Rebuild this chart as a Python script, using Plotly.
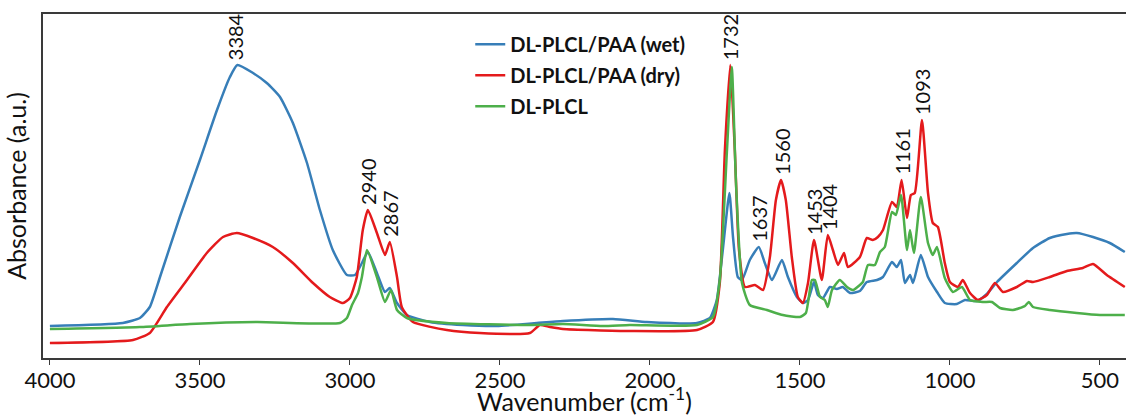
import plotly.graph_objects as go

# ---- data (wavenumber, absorbance a.u.) ----
wet_wn = [4000, 3757, 3700, 3667, 3633, 3567, 3500, 3443, 3400, 3375, 3323, 3277, 3233, 3190,
          3143, 3100, 3057, 3010, 2983, 2960, 2940, 2910, 2883, 2867, 2843, 2810, 2733, 2623,
          2510, 2377, 2290, 2123, 2010, 1843, 1800, 1777, 1757, 1735, 1723, 1707, 1693, 1667,
          1637, 1617, 1593, 1560, 1540, 1510, 1490, 1473, 1453, 1440, 1423, 1400, 1377, 1357,
          1333, 1300, 1277, 1243, 1223, 1193, 1177, 1163, 1150, 1133, 1123, 1097, 1073, 1043,
          1017, 977, 950, 910, 877, 843, 777, 723, 667, 610, 577, 523, 467, 417]
wet_ab = [0.32, 0.35, 0.40, 0.51, 0.81, 1.41, 1.98, 2.48, 2.81, 2.93, 2.85, 2.75, 2.61, 2.35,
          1.95, 1.48, 1.08, 0.83, 0.83, 0.95, 1.06, 0.85, 0.66, 0.70, 0.55, 0.43, 0.36, 0.33,
          0.32, 0.35, 0.37, 0.39, 0.36, 0.35, 0.40, 0.58, 1.08, 1.65, 1.21, 0.81, 0.78, 0.98,
          1.11, 0.95, 0.78, 0.98, 0.81, 0.61, 0.55, 0.58, 0.76, 0.63, 0.60, 0.71, 0.69, 0.71,
          0.65, 0.67, 0.76, 0.78, 0.81, 0.96, 0.91, 0.98, 0.75, 0.83, 0.75, 1.03, 0.81, 0.66,
          0.55, 0.54, 0.58, 0.57, 0.64, 0.76, 0.95, 1.10, 1.20, 1.24, 1.25, 1.21, 1.15, 1.06]

dry_wn = [4000, 3723, 3667, 3610, 3543, 3477, 3423, 3377, 3323, 3257, 3190, 3123, 3067, 3023,
          3000, 2977, 2957, 2940, 2910, 2883, 2867, 2843, 2827, 2790, 2677, 2567, 2400, 2367,
          2333, 2290, 2067, 1843, 1790, 1767, 1750, 1732, 1717, 1703, 1683, 1650, 1623, 1600,
          1580, 1563, 1547, 1527, 1507, 1490, 1473, 1453, 1427, 1407, 1390, 1373, 1353, 1340,
          1300, 1277, 1257, 1240, 1223, 1193, 1177, 1161, 1143, 1130, 1117, 1093, 1073, 1057,
          1040, 1017, 1000, 973, 957, 933, 907, 877, 850, 823, 777, 743, 723, 667, 610, 557,
          523, 477, 417]
dry_ab = [0.15, 0.18, 0.25, 0.51, 0.78, 1.05, 1.21, 1.25, 1.20, 1.11, 0.95, 0.75, 0.61, 0.55,
          0.60, 0.81, 1.28, 1.48, 1.25, 1.03, 1.16, 0.81, 0.51, 0.36, 0.28, 0.25, 0.25, 0.33,
          0.31, 0.29, 0.27, 0.28, 0.36, 0.75, 2.08, 2.93, 2.08, 1.08, 0.71, 0.73, 0.68, 1.01,
          1.58, 1.78, 1.58, 1.01, 0.61, 0.55, 0.75, 1.18, 0.78, 1.23, 1.08, 0.93, 1.05, 0.91,
          1.01, 1.20, 1.18, 1.21, 1.28, 1.56, 1.51, 1.78, 1.40, 1.63, 1.65, 2.38, 1.65, 1.35,
          1.31, 0.95, 0.76, 0.71, 0.78, 0.65, 0.58, 0.63, 0.75, 0.66, 0.71, 0.77, 0.76, 0.81,
          0.87, 0.90, 0.94, 0.83, 0.71]

plcl_wn = [4000, 3700, 3533, 3310, 3033, 3010, 2993, 2973, 2960, 2943, 2910, 2883, 2863, 2843,
           2810, 2677, 2400, 2290, 2157, 2067, 1843, 1790, 1767, 1743, 1727, 1713, 1693, 1667,
           1610, 1557, 1500, 1480, 1460, 1450, 1433, 1417, 1407, 1393, 1367, 1343, 1323, 1300,
           1290, 1273, 1250, 1233, 1217, 1193, 1180, 1163, 1143, 1133, 1120, 1097, 1073, 1057,
           1043, 1017, 990, 960, 933, 890, 860, 833, 790, 750, 737, 723, 667, 577, 500, 417]
plcl_ab = [0.29, 0.31, 0.34, 0.36, 0.35, 0.40, 0.53, 0.65, 0.81, 1.08, 0.81, 0.56, 0.68, 0.48,
           0.40, 0.35, 0.33, 0.34, 0.32, 0.33, 0.33, 0.41, 0.78, 2.08, 2.91, 1.75, 0.75, 0.53,
           0.48, 0.43, 0.41, 0.45, 0.78, 0.78, 0.61, 0.58, 0.51, 0.68, 0.78, 0.71, 0.68, 0.73,
           0.76, 0.93, 0.93, 1.06, 1.11, 1.46, 1.43, 1.63, 1.08, 1.28, 1.05, 1.61, 1.15, 1.03,
           1.11, 0.80, 0.66, 0.71, 0.58, 0.56, 0.56, 0.50, 0.48, 0.52, 0.56, 0.51, 0.48, 0.45,
           0.43, 0.43]

series_names = ["DL-PLCL/PAA (wet)", "DL-PLCL/PAA (dry)", "DL-PLCL"]
series_colors = ["#377eb8", "#e41a1c", "#4daf4a"]

peak_labels = ["3384", "2940", "2867", "1732", "1637", "1560", "1453", "1404", "1161", "1093"]
peak_wn = [3384, 2940, 2867, 1732, 1637, 1560, 1453, 1404, 1161, 1093]
peak_ab = [2.93, 1.48, 1.16, 2.93, 1.11, 1.78, 1.18, 1.23, 1.78, 2.38]

x_ticks = [4000, 3500, 3000, 2500, 2000, 1500, 1000, 500]

FONT = "Lato"
AXIS_COLOR = "#3a3a3a"

fig = go.Figure()
for i, (wn, ab) in enumerate([(wet_wn, wet_ab), (dry_wn, dry_ab), (plcl_wn, plcl_ab)]):
    fig.add_trace(go.Scatter(x=wn, y=ab, mode="lines", name=series_names[i],
                             legendgroup=f"g{i}",
                             line=dict(color=series_colors[i], width=2.5,
                                       shape="spline", smoothing=0.5)))

for lab, xw, yv in zip(peak_labels, peak_wn, peak_ab):
    fig.add_annotation(x=xw, y=yv, text=lab, textangle=-90, showarrow=False,
                       xanchor="center", yanchor="bottom", yshift=3,
                       font=dict(family=FONT, size=20, color="#111"))

fig.update_layout(
    width=1126, height=416,
    margin=dict(l=43, r=0, t=14, b=58, autoexpand=False),
    paper_bgcolor="white", plot_bgcolor="white",
    font=dict(family=FONT, color="#111"),
    showlegend=True,
    legend=dict(x=0.3945, y=0.969, xanchor="left", yanchor="top",
                bgcolor="rgba(0,0,0,0)", itemwidth=30, tracegroupgap=2,
                font=dict(family=FONT, size=20, color="#111", weight="bold")),
    xaxis=dict(range=[4023, 413], tickvals=x_ticks, ticks="outside", ticklen=5,
               tickwidth=1.2, tickcolor=AXIS_COLOR, showline=True, linecolor=AXIS_COLOR,
               linewidth=1.5, mirror=True, showgrid=False, zeroline=False, automargin=False,
               ticklabelstandoff=-3,
               tickfont=dict(family=FONT, size=22, color="#111"),
               title=dict(text="Wavenumber (cm<sup>-1</sup>)", standoff=8,
                          font=dict(family=FONT, size=25, color="#111"))),
    yaxis=dict(range=[0, 3.44], showticklabels=False, ticks="", showline=True,
               linecolor=AXIS_COLOR, linewidth=1.5, showgrid=False, zeroline=False,
               automargin=False,
               title=dict(text="Absorbance (a.u.)", standoff=8,
                          font=dict(family=FONT, size=25, color="#111"))),
)

# remove the default page margin so the figure sits exactly in the window
fig.write_html("out.html", config={"displayModeBar": False},
               post_script="document.body.style.margin='0px';"
                           "document.body.style.overflow='hidden';")
